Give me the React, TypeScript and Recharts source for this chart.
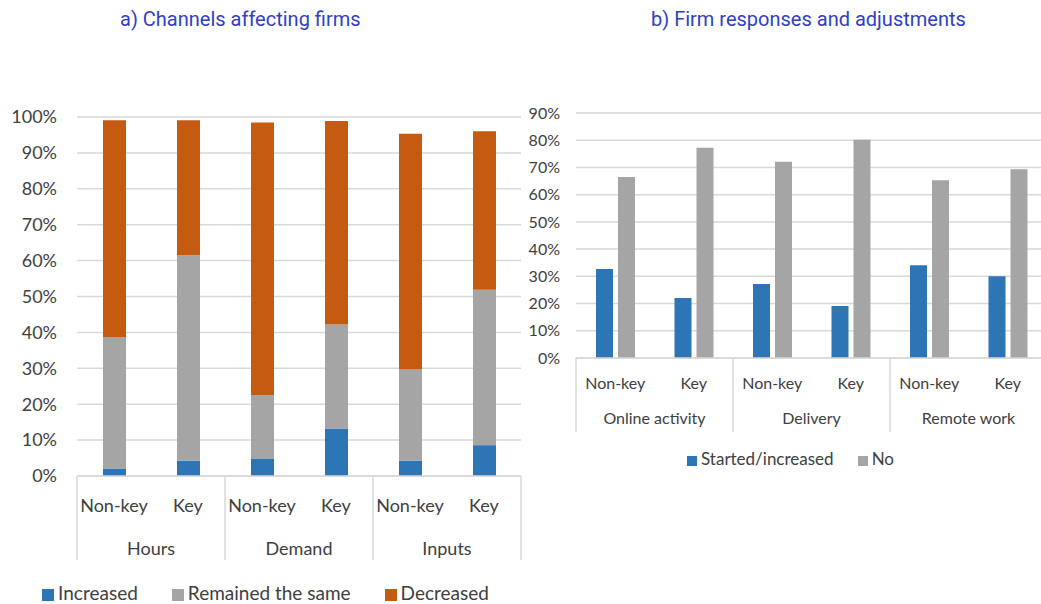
import React from "react";
import { Bar, BarChart, CartesianGrid, Legend, XAxis, YAxis } from "recharts";

// panel a) channels affecting firms (stacked, % of firms)
const channelGroups = ["Hours", "Demand", "Inputs"];
const firmTypes = ["Non-key", "Key"];
const increased = [2.1, 4.3, 4.9, 13.2, 4.3, 8.6];
const remained = [36.6, 57.2, 17.6, 29.0, 25.4, 43.3];
const decreased = [60.4, 37.6, 76.0, 56.7, 65.6, 44.1];
const channelTicks = [0, 10, 20, 30, 40, 50, 60, 70, 80, 90, 100];

// panel b) firm responses and adjustments
const responseGroups = ["Online activity", "Delivery", "Remote work"];
const started = [32.7, 22.0, 27.2, 19.1, 34.1, 30.0];
const noChange = [66.5, 77.2, 72.1, 80.2, 65.3, 69.3];
const responseTicks = [0, 10, 20, 30, 40, 50, 60, 70, 80, 90];

const channelData = channelGroups.flatMap((group, gi) =>
  firmTypes.map((type, fi) => ({
    group,
    type,
    increased: increased[gi * 2 + fi],
    remained: remained[gi * 2 + fi],
    decreased: decreased[gi * 2 + fi],
  }))
);

const responseData = responseGroups.flatMap((group, gi) =>
  firmTypes.map((type, fi) => ({
    group,
    type,
    started: started[gi * 2 + fi],
    no: noChange[gi * 2 + fi],
  }))
);

const channelOrder = ["increased", "remained", "decreased"];
const responseOrder = ["started", "no"];

const BLUE = "#2e75b6";
const GREY = "#a5a5a5";
const ORANGE = "#c55a11";
const TEXT = "#404040";
const GRID = "#d9d9d9";

const pct = (v: number) => `${v}%`;

const GroupedTick = (props: any) => {
  const { x, y, payload, index, rows, subDy, groupDy, lineLen, fontSize } = props;
  const half = payload.offset || 0;
  const row = rows[index];
  const first = index === 0 || rows[index - 1].group !== row.group;
  const last = index === rows.length - 1;
  return (
    <g>
      <text x={x} y={y + subDy} textAnchor="middle" dominantBaseline="central" fontSize={fontSize} fill={TEXT}>
        {payload.value}
      </text>
      {first && <line x1={x - half} x2={x - half} y1={y} y2={y + lineLen} stroke={GRID} strokeWidth={1.5} />}
      {first && (
        <text x={x + half} y={y + groupDy} textAnchor="middle" dominantBaseline="central" fontSize={fontSize} fill={TEXT}>
          {row.group}
        </text>
      )}
      {last && <line x1={x + half} x2={x + half} y1={y} y2={y + lineLen} stroke={GRID} strokeWidth={1.5} />}
    </g>
  );
};

const legendText = (gap: number) => (value: string) => (
  <span style={{ color: TEXT, marginRight: gap }}>{value}</span>
);

const titleStyle: React.CSSProperties = {
  position: "absolute",
  top: 7,
  fontFamily: "Roboto, sans-serif",
  fontSize: 20,
  color: "#3040c4",
  whiteSpace: "nowrap",
};

export default function App() {
  return (
    <div
      style={{
        position: "absolute",
        left: 0,
        top: 0,
        width: 1041,
        height: 604,
        overflow: "hidden",
        background: "#fff",
        fontFamily: "Lato, sans-serif",
      }}
    >
      <div style={{ ...titleStyle, left: 120 }}>a) Channels affecting firms</div>
      <div style={{ ...titleStyle, left: 651 }}>b) Firm responses and adjustments</div>

      <div style={{ position: "absolute", left: 0, top: 0 }}>
        <BarChart width={530} height={605} data={channelData} margin={{ top: 117, right: 9, left: 0, bottom: 0 }}>
          <CartesianGrid vertical={false} stroke={GRID} strokeWidth={1.5} />
          <XAxis
            dataKey="type"
            height={105}
            interval={0}
            tickSize={0}
            tickMargin={0}
            axisLine={{ stroke: GRID, strokeWidth: 1.5 }}
            tick={<GroupedTick rows={channelData} subDy={29} groupDy={72} lineLen={84} fontSize={18} />}
          />
          <YAxis
            width={77}
            domain={[0, 100]}
            ticks={channelTicks}
            tickFormatter={pct}
            axisLine={false}
            tickLine={false}
            tickSize={0}
            tickMargin={20}
            tick={{ fill: TEXT, fontSize: 18 }}
          />
          <Legend
            verticalAlign="bottom"
            iconType="square"
            iconSize={12}
            itemSorter={(item: any) => channelOrder.indexOf(item.dataKey)}
            formatter={legendText(24)}
            wrapperStyle={{ height: 24, lineHeight: "24px", fontSize: 19, left: 0, width: 565 }}
          />
          <Bar dataKey="increased" name="Increased" stackId="a" fill={BLUE} barSize={23} isAnimationActive={false} />
          <Bar dataKey="remained" name="Remained the same" stackId="a" fill={GREY} barSize={23} isAnimationActive={false} />
          <Bar dataKey="decreased" name="Decreased" stackId="a" fill={ORANGE} barSize={23} isAnimationActive={false} />
        </BarChart>
      </div>

      <div style={{ position: "absolute", left: 520, top: 0 }}>
        <BarChart
          width={540}
          height={471}
          data={responseData}
          margin={{ top: 113, right: 13, left: 0, bottom: 0 }}
          barGap={5}
        >
          <CartesianGrid vertical={false} stroke={GRID} strokeWidth={1.5} />
          <XAxis
            dataKey="type"
            height={89}
            interval={0}
            tickSize={0}
            tickMargin={0}
            axisLine={{ stroke: GRID, strokeWidth: 1.5 }}
            tick={<GroupedTick rows={responseData} subDy={24} groupDy={59} lineLen={74} fontSize={16} />}
          />
          <YAxis
            width={56}
            domain={[0, 90]}
            ticks={responseTicks}
            tickFormatter={pct}
            axisLine={false}
            tickLine={false}
            tickSize={0}
            tickMargin={16}
            tick={{ fill: TEXT, fontSize: 16 }}
          />
          <Legend
            verticalAlign="bottom"
            iconType="square"
            iconSize={10}
            itemSorter={(item: any) => responseOrder.indexOf(item.dataKey)}
            formatter={legendText(14)}
            wrapperStyle={{ height: 24, lineHeight: "24px", fontSize: 17, left: 0, width: 565 }}
          />
          <Bar dataKey="started" name="Started/increased" fill={BLUE} barSize={17} isAnimationActive={false} />
          <Bar dataKey="no" name="No" fill={GREY} barSize={17} isAnimationActive={false} />
        </BarChart>
      </div>
    </div>
  );
}
